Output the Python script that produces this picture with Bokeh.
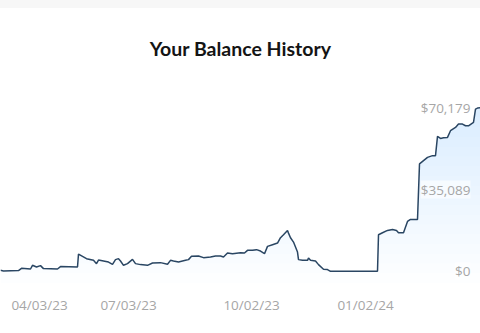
import numpy as np
from bokeh.plotting import figure
from bokeh.core.properties import value
from bokeh.models import ColumnDataSource, Range1d, FixedTicker, LabelSet, Div
from bokeh.layouts import column
from bokeh.embed import file_html
from bokeh.resources import INLINE

# ---- data ----
t = [0, 3, 18, 21, 30, 32, 36, 40, 43, 57, 60, 77, 78, 86, 93, 96, 98, 103, 108,
     112, 115, 118, 120, 123, 127, 132, 135, 140, 147, 152, 160, 167, 170, 173,
     178, 185, 188, 191, 198, 203, 210, 215, 220, 223, 227, 232, 240, 244, 247,
     252, 256, 260, 264, 267, 272, 277, 280, 283, 287, 288, 290, 293, 297, 298,
     302, 307, 308, 310, 315, 318, 323, 327, 330, 377, 378, 382, 387, 392, 396,
     398, 403, 407, 410, 417, 419, 423, 427, 432, 435, 437, 440, 443, 447, 450,
     455, 458, 462, 465, 468, 473, 475, 477, 480]
balance = [430, 150, 300, 1280, 980, 2570, 1840, 2440, 1160, 980, 2010, 1840,
           7400, 5430, 4710, 3290, 4840, 4410, 3980, 3000, 5010, 5430, 4410,
           2570, 3290, 5130, 3290, 2870, 2570, 3550, 3720, 3000, 4710, 4410,
           3980, 4710, 5010, 6420, 6550, 5860, 6120, 6550, 6550, 6120, 7830,
           7570, 8000, 7830, 8990, 8990, 9290, 8690, 7570, 10700, 11420, 12110,
           14420, 15700, 17540, 16390, 14420, 12540, 8260, 5010, 4710, 4710,
           5690, 4710, 4410, 2870, 860, 730, 0, 0, 15700, 16560, 17540, 17970,
           17540, 16560, 16560, 21400, 22250, 22250, 46090, 47500, 48910, 49640,
           49640, 57900, 57040, 57340, 57470, 60330, 61750, 63200, 63200, 62470,
           62470, 63890, 69620, 70050, 70179]
tick_pos = [39, 128, 251, 365]
tick_labels = ["04/03/23", "07/03/23", "10/02/23", "01/02/24"]
title_text = "Your Balance History"

vmax = max(balance)
y_ticks = [0, vmax // 2, vmax]
y_labels = ["${:,}".format(v) for v in y_ticks]

# ---- figure ----
y_lo, y_hi = -8240, 84040
p = figure(width=480, height=325, output_backend="svg", toolbar_location=None,
           x_range=Range1d(0, 480), y_range=Range1d(y_lo, y_hi),
           min_border_left=0, min_border_right=0, min_border_top=67,
           min_border_bottom=43, title=title_text)
p.title.align = "center"
p.title.text_font = "Lato"
p.title.text_font_style = "bold"
p.title.text_font_size = "19.5px"
p.title.text_color = "#141414"
p.title.standoff = 31
p.outline_line_color = None
p.grid.visible = False
p.yaxis.visible = False
p.background_fill_color = "white"
p.border_fill_color = "white"

xa = p.xaxis[0]
xa.ticker = FixedTicker(ticks=tick_pos)
xa.major_label_overrides = {k: v for k, v in zip(tick_pos, tick_labels)}
xa.axis_line_color = None
xa.major_tick_line_color = None
xa.minor_tick_line_color = None
xa.major_tick_out = 0
xa.major_tick_in = 0
xa.major_label_standoff = 5
xa.major_label_text_font = "Open Sans"
xa.major_label_text_font_size = "13.5px"
xa.major_label_text_color = "#a6a6a6"

# gradient fill under the line (stacked translucent bands)
tb = np.array(t, dtype=float)
bb = np.array(balance, dtype=float)
fill_bottom = -5000
K = 18
levels = np.linspace(fill_bottom, vmax, K, endpoint=False)
for L in levels:
    top = np.maximum(bb, L)
    p.varea(x=tb, y1=np.full_like(bb, L), y2=top, fill_color="#4a9fd8",
            fill_alpha=0.01)

p.line(t, balance, line_color="#2a4663", line_width=1.5)

lab_src = ColumnDataSource(dict(x=[p.x_range.end - 10] * len(y_ticks),
                                y=y_ticks, text=y_labels))
labels = LabelSet(x="x", y="y", text="text", source=lab_src,
                  text_align="right", text_baseline="middle",
                  text_font=value("Open Sans"), text_font_size=value("13.5px"),
                  text_color="#a6a6a6", background_fill_color="white",
                  background_fill_alpha=0.6)
p.add_layout(labels)

band = Div(text="", width=480, height=8, margin=0,
           styles={"background-color": "#f7f7f7"})
layout = column(band, p, spacing=0)

open("out.html", "w").write(file_html(layout, INLINE))
